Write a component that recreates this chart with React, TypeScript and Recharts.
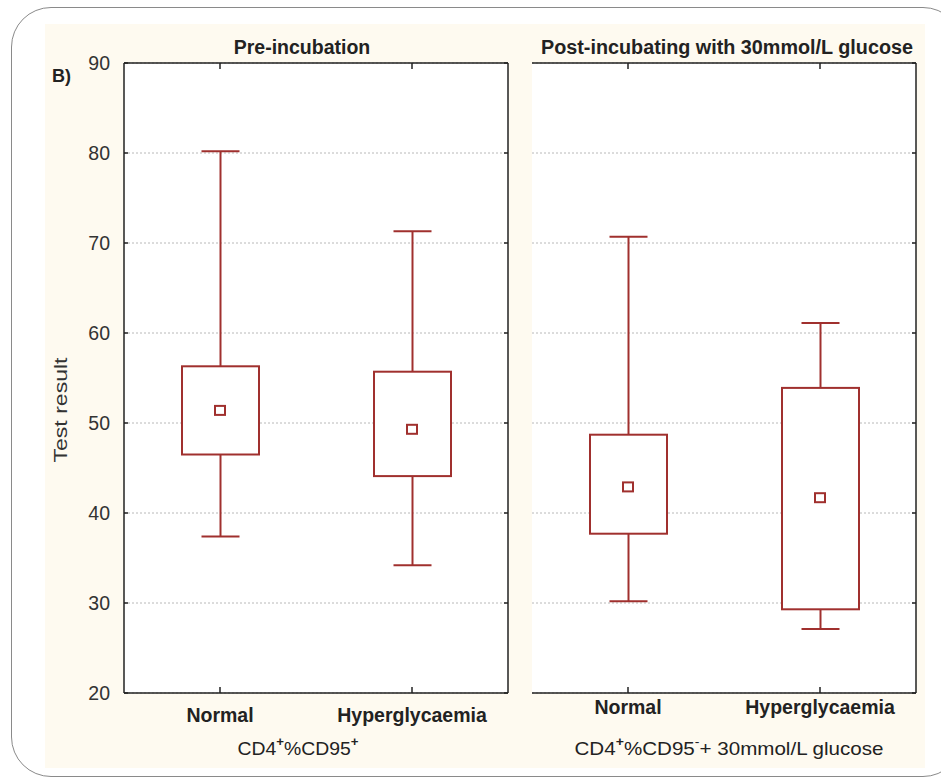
import React from "react";
import { ComposedChart, Bar, Scatter, XAxis, YAxis, CartesianGrid } from "recharts";

const categories = ["Normal", "Hyperglycaemia"];
const yTicks = [20, 30, 40, 50, 60, 70, 80, 90];

// Pre-incubation (CD4+%CD95+)
const preMin = [37.4, 34.2];
const preQ1 = [46.5, 44.1];
const preMean = [51.4, 49.3];
const preQ3 = [56.3, 55.7];
const preMax = [80.2, 71.3];

// Post-incubating with 30mmol/L glucose
const postMin = [30.2, 27.1];
const postQ1 = [37.7, 29.3];
const postMean = [42.9, 41.7];
const postQ3 = [48.7, 53.9];
const postMax = [70.7, 61.1];

const RED = "#a0302e";
const INK = "#222";
const FONT = "'Liberation Sans', Arial, Helvetica, sans-serif";
const CAP = 38;

function buildRows(min: number[], q1: number[], mean: number[], q3: number[], max: number[]) {
  return categories.map((cat, i) => ({
    cat,
    base: min[i],
    lower: q1[i] - min[i],
    box: q3[i] - q1[i],
    upper: max[i] - q3[i],
    mean: mean[i],
  }));
}

const preRows = buildRows(preMin, preQ1, preMean, preQ3, preMax);
const postRows = buildRows(postMin, postQ1, postMean, postQ3, postMax);

const Hidden = () => <g />;

const LowerWhisker = (p: any) => {
  const cx = p.x + p.width / 2;
  const yb = p.y + p.height;
  return (
    <g stroke={RED} strokeWidth={2}>
      <line x1={cx} x2={cx} y1={p.y} y2={yb} />
      <line x1={cx - CAP / 2} x2={cx + CAP / 2} y1={yb} y2={yb} />
    </g>
  );
};

const BoxShape = (p: any) => (
  <rect x={p.x} y={p.y} width={p.width} height={p.height} fill="#fff" stroke={RED} strokeWidth={2} />
);

const UpperWhisker = (p: any) => {
  const cx = p.x + p.width / 2;
  return (
    <g stroke={RED} strokeWidth={2}>
      <line x1={cx} x2={cx} y1={p.y} y2={p.y + p.height} />
      <line x1={cx - CAP / 2} x2={cx + CAP / 2} y1={p.y} y2={p.y} />
    </g>
  );
};

const MeanMark = (p: any) => (
  <rect x={p.cx - 5} y={p.cy - 4.5} width={10} height={9} fill="#fff" stroke={RED} strokeWidth={2} />
);

function Panel({
  rows,
  left,
  width,
  marginLeft,
  yAxisWidth,
  showYLabels,
  labelDy,
}: {
  rows: any[];
  left: number;
  width: number;
  marginLeft: number;
  yAxisWidth: number;
  showYLabels: boolean;
  labelDy: number;
}) {
  return (
    <div style={{ position: "absolute", left, top: 0 }}>
      <ComposedChart
        width={width}
        height={780}
        data={rows}
        margin={{ top: 62, right: 3, bottom: 47, left: marginLeft }}
      >
        <CartesianGrid
          xAxisId="b"
          yAxisId="l"
          vertical={false}
          stroke="#b8b8b8"
          strokeDasharray="2 2"
        />
        <XAxis
          xAxisId="b"
          dataKey="cat"
          height={40}
          axisLine={{ stroke: INK, strokeWidth: 1.5 }}
          tickLine={false}
          tickSize={0}
          tickMargin={0}
          interval={0}
          tick={(t: any) => (
            <g>
              <line x1={t.x} x2={t.x} y1={t.y} y2={t.y - 6} stroke={INK} strokeWidth={1.5} />
              <text
                x={t.x}
                y={t.y + labelDy}
                textAnchor="middle"
                dominantBaseline="central"
                fontFamily={FONT}
                fontWeight="bold"
                fontSize={19.5}
                fill={INK}
              >
                {t.payload.value}
              </text>
            </g>
          )}
        />
        <XAxis
          xAxisId="t"
          dataKey="cat"
          orientation="top"
          height={1}
          axisLine={{ stroke: INK, strokeWidth: 1.5 }}
          tickLine={false}
          tickSize={0}
          tickMargin={0}
          interval={0}
          tick={(t: any) => (
            <line x1={t.x} x2={t.x} y1={t.y} y2={t.y + 6} stroke={INK} strokeWidth={1.5} />
          )}
        />
        <YAxis
          yAxisId="l"
          width={yAxisWidth}
          domain={[20, 90]}
          ticks={yTicks}
          allowDataOverflow
          interval={0}
          axisLine={{ stroke: INK, strokeWidth: 1.5 }}
          tickLine={false}
          tickSize={0}
          tickMargin={0}
          tick={(t: any) => (
            <g>
              <line x1={t.x} x2={t.x + 4} y1={t.y} y2={t.y} stroke={INK} strokeWidth={1.5} />
              {showYLabels && (
                <text
                  x={t.x - 14}
                  y={t.y}
                  textAnchor="end"
                  dominantBaseline="central"
                  fontFamily={FONT}
                  fontSize={19.5}
                  fill="#333"
                >
                  {t.payload.value}
                </text>
              )}
            </g>
          )}
        />
        <YAxis
          yAxisId="r"
          orientation="right"
          width={1}
          domain={[20, 90]}
          ticks={yTicks}
          allowDataOverflow
          interval={0}
          axisLine={{ stroke: INK, strokeWidth: 1.5 }}
          tickLine={false}
          tickSize={0}
          tickMargin={0}
          tick={(t: any) => (
            <line x1={t.x} x2={t.x - 4} y1={t.y} y2={t.y} stroke={INK} strokeWidth={1.5} />
          )}
        />
        <Bar xAxisId="b" yAxisId="l" dataKey="base" stackId="s" barSize={77} shape={Hidden} isAnimationActive={false} />
        <Bar xAxisId="b" yAxisId="l" dataKey="lower" stackId="s" barSize={77} shape={LowerWhisker} isAnimationActive={false} />
        <Bar xAxisId="b" yAxisId="l" dataKey="box" stackId="s" barSize={77} shape={BoxShape} isAnimationActive={false} />
        <Bar xAxisId="b" yAxisId="l" dataKey="upper" stackId="s" barSize={77} shape={UpperWhisker} isAnimationActive={false} />
        <Scatter xAxisId="b" yAxisId="l" dataKey="mean" shape={MeanMark} isAnimationActive={false} />
      </ComposedChart>
    </div>
  );
}

export default function App() {
  return (
    <div
      style={{
        position: "absolute",
        left: 0,
        top: 0,
        width: 941,
        height: 780,
        overflow: "hidden",
        background: "#fff",
        fontFamily: FONT,
      }}
    >
      <div
        style={{
          position: "absolute",
          left: 11,
          top: 7,
          width: 950,
          height: 768,
          border: "1.5px solid #8a8a8a",
          borderRadius: 40,
        }}
      />
      <div style={{ position: "absolute", left: 45, top: 24, width: 880, height: 744, background: "#fefaf0" }} />
      <div style={{ position: "absolute", left: 124, top: 63, width: 384, height: 630, background: "#fff" }} />
      <div style={{ position: "absolute", left: 532, top: 63, width: 384, height: 630, background: "#fff" }} />

      <Panel rows={preRows} left={0} width={512} marginLeft={0} yAxisWidth={124} showYLabels labelDy={22} />
      <Panel rows={postRows} left={520} width={400} marginLeft={12} yAxisWidth={0} showYLabels={false} labelDy={14} />

      <svg
        width={941}
        height={780}
        style={{ position: "absolute", left: 0, top: 0, pointerEvents: "none" }}
        fontFamily={FONT}
        fill={INK}
      >
        <text x={52} y={76} fontWeight="bold" fontSize={18} dominantBaseline="central">
          B)
        </text>
        <text x={302} y={47} fontWeight="bold" fontSize={19.5} textAnchor="middle" dominantBaseline="central">
          Pre-incubation
        </text>
        <text
          x={727}
          y={47}
          fontWeight="bold"
          fontSize={19.5}
          textAnchor="middle"
          dominantBaseline="central"
          textLength={372}
          lengthAdjust="spacingAndGlyphs"
        >
          Post-incubating with 30mmol/L glucose
        </text>
        <text
          x={0}
          y={0}
          fontSize={19}
          textAnchor="middle"
          dominantBaseline="central"
          transform="translate(60 410) rotate(-90)"
          textLength={105}
          lengthAdjust="spacingAndGlyphs"
          fill="#333"
        >
          Test result
        </text>
        <text
          x={298}
          y={748}
          fontSize={19}
          textAnchor="middle"
          dominantBaseline="central"
          textLength={121}
          lengthAdjust="spacingAndGlyphs"
        >
          CD4<tspan fontSize={13} fontWeight="bold" dy={-7}>+</tspan>
          <tspan dy={7}>%CD95</tspan>
          <tspan fontSize={13} fontWeight="bold" dy={-7}>+</tspan>
        </text>
        <text
          x={729}
          y={748}
          fontSize={19}
          textAnchor="middle"
          dominantBaseline="central"
          textLength={309}
          lengthAdjust="spacingAndGlyphs"
        >
          CD4<tspan fontSize={13} fontWeight="bold" dy={-7}>+</tspan>
          <tspan dy={7}>%CD95</tspan>
          <tspan fontSize={13} dy={-7}>-</tspan>
          <tspan dy={7}>+ 30mmol/L glucose</tspan>
        </text>
      </svg>
    </div>
  );
}
